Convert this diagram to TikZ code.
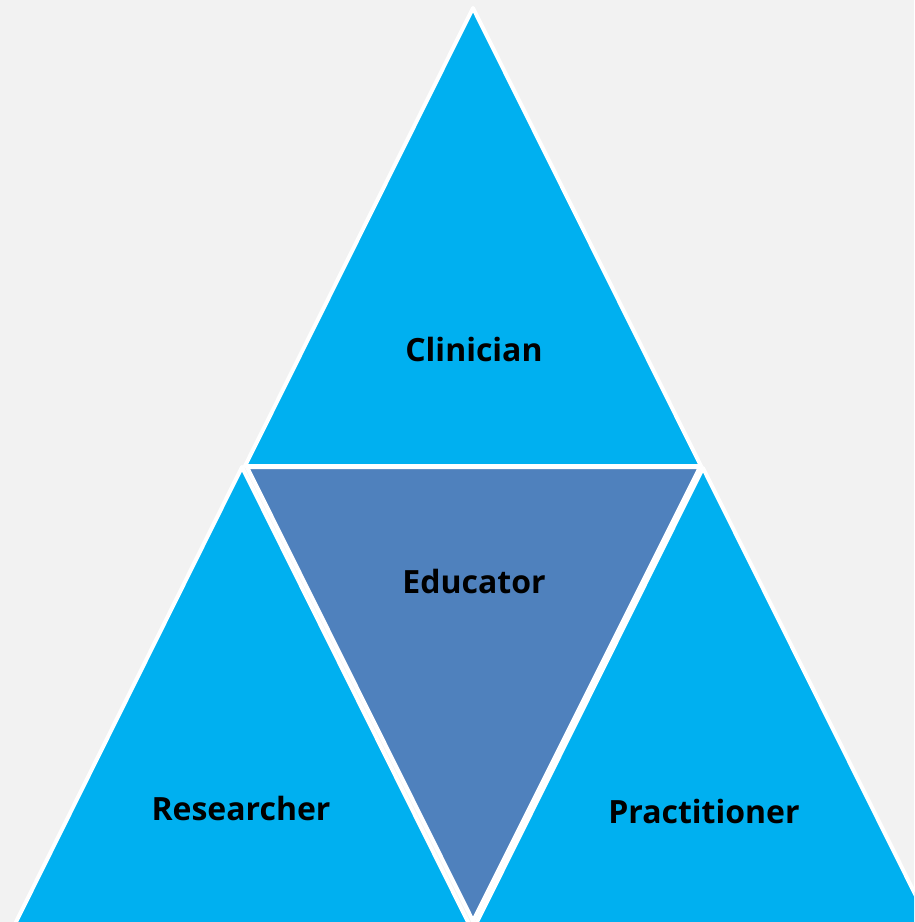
\documentclass[tikz,border=0pt]{standalone}
\usepackage{fontspec}
\setmainfont{Open Sans}
\definecolor{bgc}{HTML}{F2F2F2}
\definecolor{skyb}{HTML}{00B0F0}
\definecolor{midb}{HTML}{4F81BD}
\tikzset{
  tri/.style={draw=white, line width=4pt, line join=round},
  lbl/.style={font=\fontsize{32}{38}\selectfont\bfseries, text=black, inner sep=0pt}
}
\begin{document}
\begin{tikzpicture}[x=1pt,y=-1pt]
\useasboundingbox (0,0) rectangle (914,922);
\fill[bgc] (0,0) rectangle (914,922);
\begin{scope}
\clip (0,0) rectangle (914,922);
\filldraw[tri, fill=skyb] (473,8) -- (701,466) -- (245,466) -- cycle;
\filldraw[tri, fill=skyb] (242,467) -- (470,926) -- (14,926) -- cycle;
\filldraw[tri, fill=skyb] (703,468) -- (931,926) -- (475,926) -- cycle;
\filldraw[tri, fill=midb] (247,467) -- (700,467) -- (473,921) -- cycle;
\end{scope}
\node[lbl] (clin) at (474,349) {Clinician};
\node[lbl] (edu) at (474,581) {Educator};
\node[lbl] (res) at (241,808) {Researcher};
\node[lbl] (prac) at (704,811) {Practitioner};
\end{tikzpicture}
\end{document}
